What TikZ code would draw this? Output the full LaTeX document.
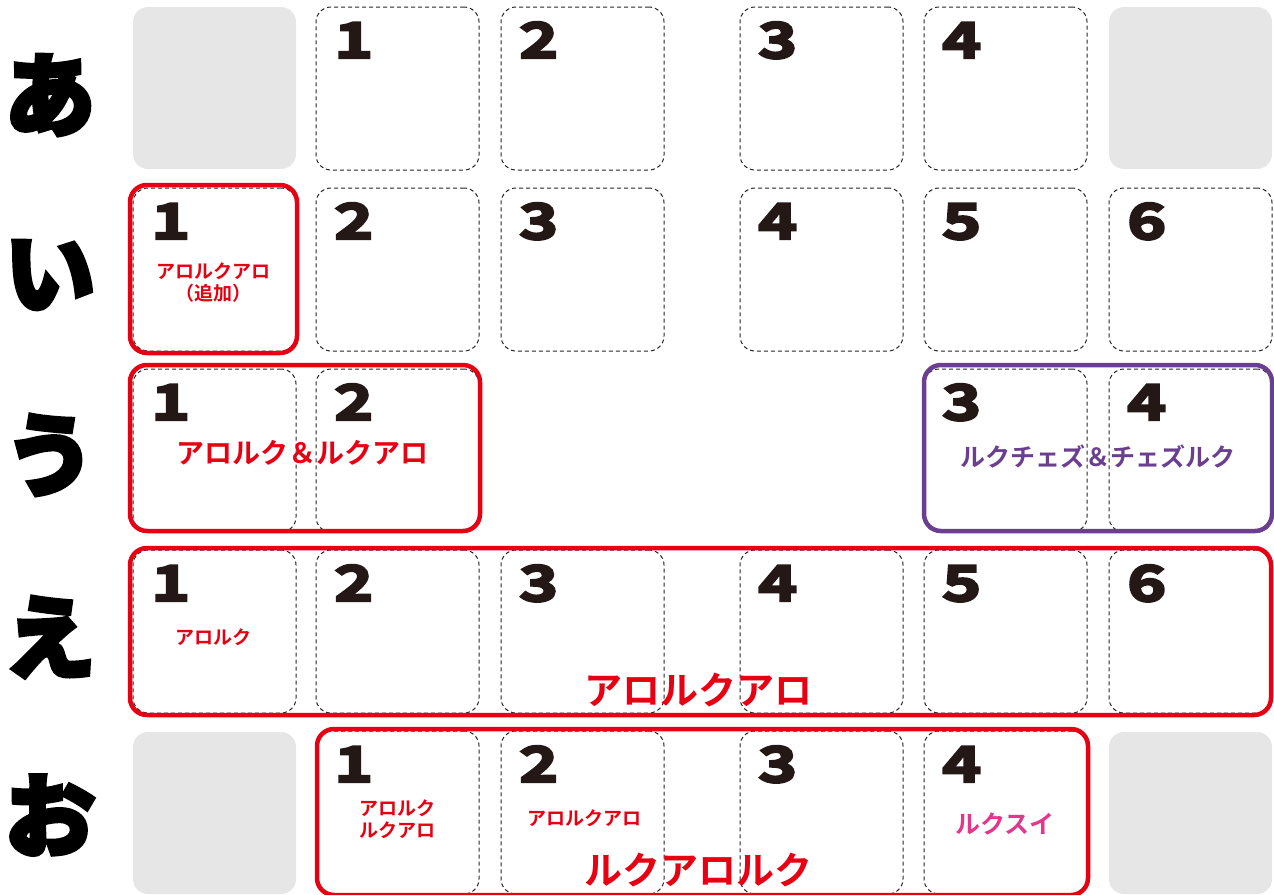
\documentclass[tikz,border=0pt]{standalone}
\usepackage{fontspec}
\newfontfamily\jp{Noto Sans CJK JP Bold}
\newfontfamily\jpheavy{Noto Sans CJK JP Bold}[FakeBold=7]
\newfontfamily\dig{Noto Sans CJK JP Bold}[FakeStretch=1.35,FakeBold=5]
\definecolor{redc}{HTML}{E60012}
\definecolor{purc}{HTML}{6B3F90}
\definecolor{pinkc}{HTML}{E4378C}
\definecolor{greyc}{HTML}{E6E6E6}
\definecolor{digc}{HTML}{231815}
\tikzset{
  cell/.style={draw=black!85, dash pattern=on 4pt off 3pt, line width=1pt,
    rounded corners=15pt, minimum width=163pt, minimum height=163pt,
    inner sep=0pt, outer sep=0pt, anchor=north west},
  greycell/.style={fill=greyc, rounded corners=15pt, minimum width=163pt,
    minimum height=162pt, inner sep=0pt, outer sep=0pt, anchor=north west},
  frame/.style={draw=#1, line width=4.5pt, rounded corners=17pt, inner sep=0pt,
    outer sep=0pt, anchor=north west},
  num/.style={font=\dig\fontsize{49}{49}\selectfont, text=digc, inner sep=0pt, anchor=base west},
  rowlab/.style={font=\jpheavy\fontsize{90}{90}\selectfont, text=black, inner sep=0pt},
  lab/.style={font=\jp\fontsize{#1}{#1}\selectfont, inner sep=0pt, align=center},
}
\begin{document}
\begin{tikzpicture}[x=1pt,y=-1pt]
\useasboundingbox (0,0) rectangle (1274,894);
% row labels
\node[rowlab] (la) at (50,95) {あ};
\node[rowlab] (li) at (50,275) {い};
\node[rowlab] (lu) at (50,455) {う};
\node[rowlab] (le) at (50,637) {え};
\node[rowlab] (lo) at (50,815) {お};
% row a
\node[greycell] (a0) at (133,7) {};
\node[greycell] (a5) at (1109,7) {};
\foreach \c/\x/\n in {1/316/1,2/501/2,3/740/3,4/924/4}{
  \node[cell] (a\c) at (\x,7) {};
  \node[num] (na\c) at (\x+18,58) {\n};}
% row i
\foreach \c/\x/\n in {0/133/1,1/316/2,2/501/3,3/740/4,4/924/5,5/1109/6}{
  \node[cell] (i\c) at (\x,188) {};
  \node[num] (ni\c) at (\x+18,239) {\n};}
% row u
\foreach \c/\x/\n in {0/133/1,1/316/2,4/924/3,5/1109/4}{
  \node[cell] (u\c) at (\x,369) {};
  \node[num] (nu\c) at (\x+18,420) {\n};}
% row e
\foreach \c/\x/\n in {0/133/1,1/316/2,2/501/3,3/740/4,4/924/5,5/1109/6}{
  \node[cell] (e\c) at (\x,550) {};
  \node[num] (ne\c) at (\x+18,601) {\n};}
% row o
\node[greycell] (o0) at (133,732) {};
\node[greycell] (o5) at (1109,732) {};
\foreach \c/\x/\n in {1/316/1,2/501/2,3/740/3,4/924/4}{
  \node[cell] (o\c) at (\x,731) {};
  \node[num] (no\c) at (\x+18,782) {\n};}
% frames
\node[frame=redc, minimum width=167pt, minimum height=168pt] (fi) at (130,185) {};
\node[frame=redc, minimum width=350pt, minimum height=166pt] (fu) at (130,365) {};
\node[frame=purc, minimum width=348pt, minimum height=166pt] (fp) at (924,365) {};
\node[frame=redc, minimum width=1141pt, minimum height=167pt] (fe) at (130,548) {};
\node[frame=redc, minimum width=771pt, minimum height=166pt] (fo) at (317,729) {};
% texts
\node[lab=19, text=redc] (t1) at (213,283) {アロルクアロ\\[3pt]（追加）};
\node[lab=28, text=redc] (t2) at (302,453) {アロルク＆ルクアロ};
\node[lab=25, text=purc] (t3) at (1098,457) {ルクチェズ＆チェズルク};
\node[lab=19, text=redc] (t4) at (213,637) {アロルク};
\node[lab=38, text=redc] (t5) at (698,690) {アロルクアロ};
\node[lab=19, text=redc] (t6) at (397,819) {アロルク\\[3pt]ルクアロ};
\node[lab=19, text=redc] (t7) at (584,818) {アロルクアロ};
\node[lab=25, text=pinkc] (t8) at (1005,824) {ルクスイ};
\node[lab=38, text=redc] (t9) at (698,870) {ルクアロルク};
\end{tikzpicture}
\end{document}
